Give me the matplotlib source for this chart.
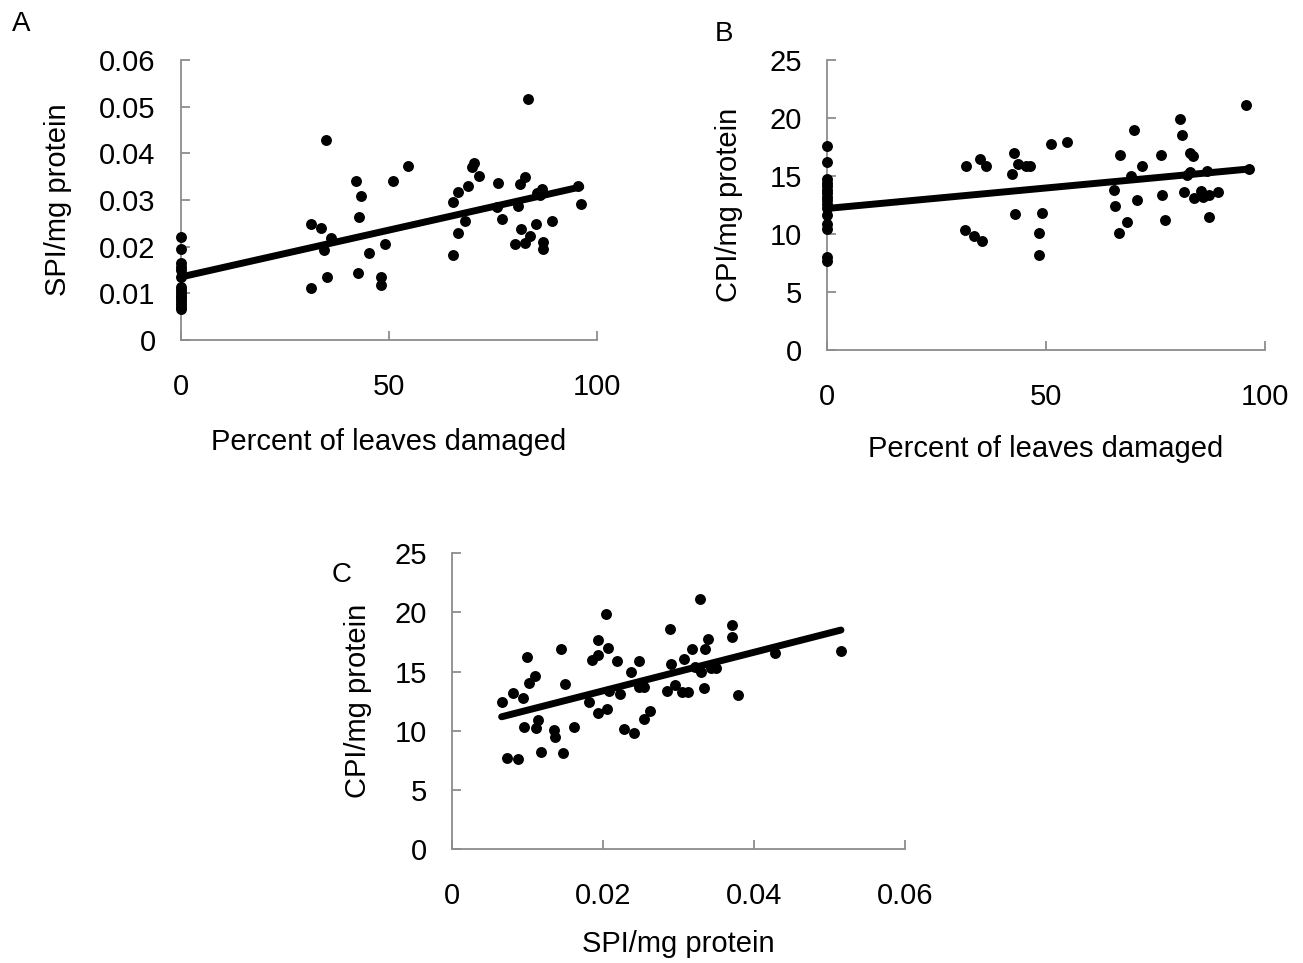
"""
Three-panel scatter figure: SPI and CPI per mg protein against leaf damage,
and CPI against SPI, each with a fitted trend line.
"""

import matplotlib

matplotlib.use("Agg")
import matplotlib.pyplot as plt
import numpy as np

plt.rcParams["font.family"] = ["Liberation Sans", "DejaVu Sans"]

# ---------------------------------------------------------------------------
# Data
# ---------------------------------------------------------------------------
# Panel A: percent of leaves damaged vs SPI/mg protein
damage_a = [0] * 15 + [
    31.2, 33.6, 34.8, 36.1, 34.4, 35.2, 31.2, 42.0, 43.4, 42.8, 45.2, 42.5,
    49.0, 48.2, 48.0, 51.0, 54.5, 83.5, 70.4, 70.0, 71.7, 69.1, 66.7, 65.3,
    68.3, 66.6, 65.5, 76.2, 77.1, 76.0, 81.4, 82.7, 81.0, 81.8, 83.8, 82.7,
    80.3, 85.4, 86.7, 86.2, 85.5, 87.0, 87.1, 89.1, 95.5, 96.1,
]
spi_a = [
    0.0221, 0.0194, 0.0165, 0.0157, 0.0149, 0.0135, 0.0114, 0.0107, 0.0101,
    0.0095, 0.0089, 0.0083, 0.0077, 0.0071, 0.0067,
    0.0248, 0.0241, 0.0429, 0.0219, 0.0193, 0.0136, 0.0111, 0.0341, 0.0309,
    0.0263, 0.0186, 0.0144, 0.0205, 0.0136, 0.0118, 0.0341, 0.0372, 0.0516,
    0.0379, 0.0371, 0.0351, 0.0331, 0.0317, 0.0296, 0.0255, 0.0229, 0.0182,
    0.0336, 0.0260, 0.0285, 0.0334, 0.0350, 0.0288, 0.0237, 0.0223, 0.0207,
    0.0205, 0.0249, 0.0324, 0.0311, 0.0315, 0.0209, 0.0194, 0.0254, 0.0330,
    0.0291,
]
trend_a = (0.0135, 0.000201)  # intercept, slope

# Panel B: percent of leaves damaged vs CPI/mg protein
damage_b = [0] * 16 + [
    31.7, 34.9, 36.2, 31.5, 33.6, 35.3, 42.7, 43.5, 45.5, 42.1, 43.0, 46.3,
    49.1, 48.4, 48.3, 51.1, 54.7, 70.1, 66.8, 71.9, 69.3, 65.4, 65.8, 70.7,
    68.5, 66.7, 76.3, 76.4, 77.2, 80.5, 81.1, 82.8, 83.6, 82.1, 82.8, 81.5,
    83.8, 85.5, 85.8, 87.2, 89.3, 86.8, 87.2, 95.6, 96.3,
]
cpi_b = [
    17.6, 16.2, 14.7, 14.4, 14.1, 13.8, 13.5, 13.2, 12.9, 12.6, 12.2, 11.6,
    10.9, 10.4, 8.0, 7.7,
    15.9, 16.5, 15.9, 10.3, 9.8, 9.4, 17.0, 16.0, 15.9, 15.2, 11.7, 15.9,
    11.8, 10.1, 8.2, 17.8, 17.9, 19.0, 16.8, 15.9, 15.0, 13.8, 12.4, 12.9,
    11.0, 10.1, 16.8, 13.4, 11.2, 19.9, 18.5, 17.0, 16.7, 15.1, 15.3, 13.6,
    13.1, 13.7, 13.2, 13.4, 13.6, 15.4, 11.5, 21.1, 15.6,
]
trend_b = (12.2, 0.0353)

# Panel C: SPI/mg protein vs CPI/mg protein
spi_c = [
    0.00654, 0.00808, 0.00932, 0.00993, 0.0102, 0.01095, 0.0095, 0.01104,
    0.0114, 0.0072, 0.00866, 0.0117, 0.01347, 0.0136, 0.01462, 0.01436,
    0.01493, 0.01616, 0.0181, 0.01854, 0.01934, 0.01926, 0.02036, 0.02066,
    0.01934, 0.02045, 0.0208, 0.02181, 0.02221, 0.02274, 0.0241, 0.02367,
    0.02469, 0.02477, 0.0254, 0.0254, 0.02618, 0.0284, 0.0288, 0.02897,
    0.0295, 0.03047, 0.03126, 0.03073, 0.03171, 0.03215, 0.0328, 0.03347,
    0.0339, 0.03303, 0.03334, 0.03436, 0.03502, 0.03709, 0.03709, 0.03784,
    0.04278, 0.05152,
]
cpi_c = [
    12.45, 13.16, 12.74, 16.26, 14.0, 14.6, 10.3, 10.25, 10.9, 7.66, 7.58,
    8.2, 10.06, 9.44, 8.09, 16.93, 13.95, 10.29, 12.4, 15.98, 16.4, 17.67,
    19.86, 16.96, 11.47, 11.8, 13.38, 15.89, 13.1, 10.12, 9.83, 14.99, 15.92,
    13.67, 13.67, 10.99, 11.69, 13.38, 18.57, 15.61, 13.86, 13.3, 13.3, 16.06,
    16.88, 15.41, 21.1, 16.88, 17.75, 14.99, 13.61, 15.27, 15.27, 18.96, 17.9,
    12.99, 16.54, 16.74,
]
trend_c = (10.11, 163.0)

AXIS_GREY = "#8c8c8c"
FS = 21


def style_axes(ax, xticks, xlabels, yticks, ylabels):
    for side in ("top", "right"):
        ax.spines[side].set_visible(False)
    for side in ("left", "bottom"):
        ax.spines[side].set_color(AXIS_GREY)
        ax.spines[side].set_linewidth(1.3)
    ax.set_xticks(xticks, xlabels)
    ax.set_yticks(yticks, ylabels)
    ax.set_xlim(xticks[0], xticks[-1])
    ax.set_ylim(yticks[0], yticks[-1])
    ax.tick_params(axis="both", direction="in", length=6.5, width=1.3,
                   color=AXIS_GREY, labelsize=FS)
    ax.tick_params(axis="y", pad=18)
    ax.tick_params(axis="x", pad=24)


def scatter_with_trend(ax, x, y, trend):
    ax.scatter(x, y, s=62, color="black", zorder=3, clip_on=False, linewidths=0)
    xs = np.array([min(x), max(x)])
    ax.plot(xs, trend[0] + trend[1] * xs, color="black", linewidth=5,
            solid_capstyle="round", zorder=4, clip_on=False)


fig = plt.figure(figsize=(13.03, 9.63), dpi=100)

# Panel A
ax_a = fig.add_axes([0.1387, 0.6469, 0.3195, 0.2908])
scatter_with_trend(ax_a, damage_a, spi_a, trend_a)
style_axes(ax_a, [0, 50, 100], ["0", "50", "100"],
           [0, 0.01, 0.02, 0.03, 0.04, 0.05, 0.06],
           ["0", "0.01", "0.02", "0.03", "0.04", "0.05", "0.06"])
ax_a.set_xlabel("Percent of leaves damaged", fontsize=FS)
ax_a.set_ylabel("SPI/mg protein", fontsize=FS)
ax_a.xaxis.set_label_coords(0.5, -0.313)
ax_a.yaxis.set_label_coords(-0.262, 0.5)

# Panel B
ax_b = fig.add_axes([0.6349, 0.6366, 0.3359, 0.3011])
scatter_with_trend(ax_b, damage_b, cpi_b, trend_b)
style_axes(ax_b, [0, 50, 100], ["0", "50", "100"],
           [0, 5, 10, 15, 20, 25], ["0", "5", "10", "15", "20", "25"])
ax_b.set_xlabel("Percent of leaves damaged", fontsize=FS)
ax_b.set_ylabel("CPI/mg protein", fontsize=FS)
ax_b.xaxis.set_label_coords(0.5, -0.295)
ax_b.yaxis.set_label_coords(-0.193, 0.5)

# Panel C
ax_c = fig.add_axes([0.3471, 0.1184, 0.3474, 0.3071])
scatter_with_trend(ax_c, spi_c, cpi_c, trend_c)
style_axes(ax_c, [0, 0.02, 0.04, 0.06], ["0", "0.02", "0.04", "0.06"],
           [0, 5, 10, 15, 20, 25], ["0", "5", "10", "15", "20", "25"])
ax_c.set_xlabel("SPI/mg protein", fontsize=FS)
ax_c.set_ylabel("CPI/mg protein", fontsize=FS)
ax_c.xaxis.set_label_coords(0.5, -0.275)
ax_c.yaxis.set_label_coords(-0.177, 0.5)

# Panel letters
fig.text(0.0092, 0.9678, "A", fontsize=20, va="baseline")
fig.text(0.5487, 0.9577, "B", fontsize=20, va="baseline")
fig.text(0.2548, 0.3956, "C", fontsize=20, va="baseline")

fig.savefig("out.png", dpi=100)
plt.close(fig)
